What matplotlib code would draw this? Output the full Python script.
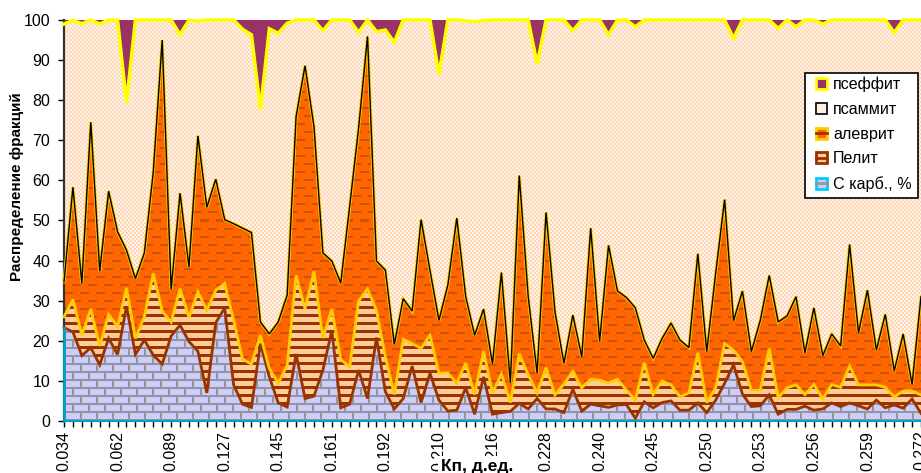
import numpy as np
import matplotlib
matplotlib.use('Agg')
import matplotlib.pyplot as plt
from matplotlib.patches import Patch, Rectangle
from matplotlib.lines import Line2D
from matplotlib.legend_handler import HandlerTuple

plt.rcParams['font.family'] = ['Liberation Sans', 'DejaVu Sans']

# top of each stacked band
carb_top = [23.3, 22.2, 16.3, 18.3, 14.0, 20.6, 16.6, 28.6, 16.6, 20.2, 16.4, 14.2, 21.2, 23.9, 19.8, 17.4, 7.0,
            24.5, 28.2, 9.0, 4.2, 3.4, 19.3, 11.0, 4.5, 3.5, 16.7, 5.6, 6.2, 12.7, 22.5, 3.3, 4.2, 12.7, 5.6,
            20.8, 7.3, 3.0, 5.6, 13.7, 4.6, 11.9, 5.2, 2.5, 2.7, 8.3, 1.7, 11.0, 1.7, 2.1, 2.4, 4.4, 3.0, 5.6,
            3.0, 3.0, 2.1, 7.9, 2.5, 4.2, 3.8, 3.4, 4.0, 4.1, 0.7, 4.8, 3.3, 4.6, 5.0, 2.7, 2.7, 4.5, 2.1, 5.2,
            9.4, 14.0, 6.7, 3.6, 3.8, 6.5, 1.7, 2.9, 2.9, 3.7, 2.7, 3.0, 4.5, 3.6, 4.5, 3.8, 3.0, 5.2, 3.3, 4.0,
            3.2, 5.5, 1.9]
pelit_top = [26.0, 30.3, 21.4, 27.9, 18.7, 26.6, 23.5, 33.2, 20.6, 26.0, 36.8, 27.4, 24.7, 33.0, 25.8, 32.2, 27.6,
             32.6, 34.3, 25.1, 15.4, 14.2, 21.4, 13.1, 9.4, 13.9, 36.3, 28.0, 37.3, 20.7, 27.9, 15.4, 13.4, 29.9,
             32.9, 27.6, 16.0, 6.6, 20.4, 19.3, 18.1, 21.4, 11.9, 12.0, 9.4, 14.5, 6.6, 17.4, 7.0, 11.7, 4.6, 16.8,
             11.5, 7.0, 13.3, 6.5, 9.2, 12.4, 8.3, 10.4, 10.2, 9.5, 10.4, 7.7, 5.2, 14.5, 6.6, 10.0, 9.0, 6.0, 7.0,
             17.0, 4.6, 8.3, 19.3, 17.7, 14.8, 7.7, 7.7, 18.1, 5.8, 8.3, 9.0, 6.6, 9.1, 5.5, 9.1, 8.4, 13.7, 9.0,
             9.0, 9.0, 8.4, 6.0, 7.5, 7.5, 6.5]
alevrit_top = [34.7, 58.3, 34.3, 74.5, 37.4, 57.3, 47.2, 42.6, 35.5, 41.9, 62.0, 95.0, 32.8, 56.8, 38.4, 71.1, 53.3,
               60.3, 50.2, 49.2, 48.1, 47.0, 24.7, 21.7, 24.7, 31.4, 75.9, 88.6, 73.4, 41.9, 39.9, 34.4, 53.5, 73.0,
               95.9, 39.9, 37.6, 19.1, 30.5, 27.4, 50.2, 37.5, 25.1, 33.9, 50.6, 31.0, 21.4, 27.9, 14.2, 37.0, 9.5,
               61.2, 31.0, 11.9, 52.0, 27.2, 14.4, 26.4, 16.0, 48.1, 19.9, 43.8, 32.4, 30.8, 28.2, 20.2, 15.6, 20.6,
               24.4, 20.2, 18.3, 41.7, 17.3, 36.8, 55.2, 25.0, 32.4, 17.3, 25.1, 36.3, 24.7, 26.2, 31.0, 17.0, 28.2,
               16.3, 21.7, 18.7, 44.0, 22.0, 32.6, 17.7, 26.6, 12.5, 21.7, 9.1, 31.0]
psammit_top = [99.0, 99.9, 99.1, 100, 99.0, 100, 100, 79.3, 100, 100, 100, 100, 100, 96.3, 100, 99.7, 100, 100, 100,
               100, 97.7, 96.3, 77.6, 97.8, 96.7, 99.2, 100, 100, 100, 97.3, 100, 100, 100, 96.9, 100, 97.1, 97.5,
               94.4, 100, 100, 100, 100, 86.3, 100, 100, 99.8, 99.6, 99.8, 100, 100, 100, 100, 100, 89.0, 100, 100,
               100, 97.3, 100, 100, 100, 96.3, 100, 100, 98.3, 100, 100, 100, 100, 100, 100, 100, 100, 100, 100, 95.4,
               100, 100, 100, 100, 97.9, 100, 98.3, 100, 100, 99.0, 100, 100, 100, 100, 100, 100, 100, 96.8, 100, 100,
               100]

x_labels = ['0.034', '0.062', '0.089', '0.127', '0.145', '0.161', '0.192', '0.210', '0.216', '0.228', '0.240',
            '0.245', '0.250', '0.253', '0.256', '0.259', '0.272']
legend_labels = ['псеффит', 'псаммит', 'алеврит', 'Пелит', 'С карб., %']

W, H = 921, 473
L, R, T, B = 64, 921, 20, 421
tw, th = R - L, B - T


def hexrgb(c):
    return np.array(matplotlib.colors.to_rgb(c))


def brickTexture():
    tex = np.ones((th, tw, 3)) * hexrgb('#CCCCFF')
    mortar = hexrgb('#969696')
    yy, xx = np.mgrid[0:th, 0:tw]
    row = (th - 1 - yy) // 8
    tex[(th - 1 - yy) % 8 < 2] = mortar
    tex[(xx + row * 8) % 16 < 2] = mortar
    return tex


def stripeTexture():
    tex = np.ones((th, tw, 3)) * hexrgb('#FFCC99')
    yy = np.arange(th)
    tex[(th - 1 - yy) % 8 < 3] = hexrgb('#993300')
    return tex


def dashTexture():
    tex = np.ones((th, tw, 3)) * hexrgb('#FF6600')
    yy, xx = np.mgrid[0:th, 0:tw]
    row = yy // 8
    tex[(yy % 8 < 2) & ((xx + row * 8) % 16 < 9)] = hexrgb('#C8520C')
    return tex


def dotTexture():
    tex = np.ones((th, tw, 3)) * hexrgb('#FFD6B4')
    yy, xx = np.mgrid[0:th, 0:tw]
    tex[(xx // 2 + yy // 2) % 2 == 0] = hexrgb('#FFF4EA')
    return tex


fig = plt.figure(figsize=(W / 100, H / 100), dpi=100, facecolor='white')
ax = fig.add_axes([L / W, 1 - B / H, (R - L) / W, (B - T) / H])

idx = np.arange(len(carb_top))
zeros = np.zeros(len(idx))
bands = [(zeros, carb_top, brickTexture()),
         (carb_top, pelit_top, stripeTexture()),
         (pelit_top, alevrit_top, dashTexture()),
         (alevrit_top, psammit_top, dotTexture())]

for lo, hi, tex in bands:
    poly = ax.fill_between(idx, lo, hi, facecolor='none', edgecolor='none', interpolate=True)
    im = ax.imshow(tex, extent=(0, 96, 0, 100), aspect='auto', interpolation='nearest', zorder=1)
    im.set_clip_path(poly.get_paths()[0], ax.transData)

ax.fill_between(idx, psammit_top, 100, facecolor='#993366', edgecolor='none', zorder=2)

lineArgs = dict(solid_joinstyle='miter', clip_on=False, zorder=3)
ax.plot(idx, carb_top, color='#993300', lw=2.0, **lineArgs)
ax.plot(idx, pelit_top, color='#FFCC00', lw=2.0, **lineArgs)
ax.plot(idx, alevrit_top, color='#FFCC00', lw=2.2, **lineArgs)
ax.plot(idx, alevrit_top, color='black', lw=1.0, **lineArgs)
ax.plot(idx, psammit_top, color='#FFFF00', lw=2.5, **lineArgs)
ax.plot([0, 96], [0, 0], color='#00A0C8', lw=1.5, clip_on=False, zorder=3)
ax.plot([0, 0], [0, carb_top[0]], color='#00A0C8', lw=2.0, clip_on=False, zorder=4)

ax.set_xlim(0, 96)
ax.set_ylim(0, 100)
for side in ['top', 'right', 'bottom']:
    ax.spines[side].set_visible(False)
ax.spines['left'].set_linewidth(1.6)
ax.spines['left'].set_color('#333333')
ax.spines['left'].set_zorder(2.5)

ax.set_yticks(range(0, 101, 10))
ax.tick_params(axis='y', labelsize=11.5, length=4, width=1, pad=6, colors='black')
ticks = list(range(0, 97))
labels = [''] * 97
for i, s in enumerate(x_labels):
    labels[i * 6] = s
ax.set_xticks(ticks)
ax.set_xticklabels(labels, rotation=90, ha='center', va='top')
ax.tick_params(axis='x', labelsize=11.5, length=4, width=1, pad=3)

fig.text(17 / W, 1 - 187 / H, 'Распределение фракций', rotation=90, ha='center', va='center',
         fontsize=11, fontweight='bold')
fig.text(477 / W, 1 - 466 / H, 'Кп, д.ед.', ha='center', va='center', fontsize=12.5, fontweight='bold',
         bbox=dict(facecolor='white', edgecolor='none', pad=2), zorder=10)

handles = [
    Patch(facecolor='#993366', edgecolor='#FFFF00', linewidth=2),
    Patch(facecolor='#FFEFE0', edgecolor='black', linewidth=1.2),
    (Patch(facecolor='#FF6600', edgecolor='#FFCC00', linewidth=2),
     Line2D([0], [0], color='#993300', lw=2)),
    (Patch(facecolor='#FFCC99', edgecolor='#993300', linewidth=2),
     Line2D([0], [0], color='#993300', lw=2)),
    (Patch(facecolor='#CCCCFF', edgecolor='#00CCFF', linewidth=2),
     Line2D([0], [0], color='#969696', lw=2)),
]
frame = Rectangle(((805 - L) / tw, (B - 198) / th), 113 / tw, 125 / th, transform=ax.transAxes,
                  facecolor='white', edgecolor='black', linewidth=1.2, zorder=4.5)
ax.add_patch(frame)
leg = ax.legend(handles, legend_labels, loc='upper left', bbox_to_anchor=((816 - L) / tw, 1 - (77 - T) / th),
                borderaxespad=0, fontsize=11.6, handlelength=0.7, handleheight=0.7, handletextpad=0.35,
                labelspacing=0.6, borderpad=0, frameon=False,
                handler_map={tuple: HandlerTuple(ndivide=1, pad=0)})
leg.set_zorder(5)

fig.savefig('out.png', dpi=100)
